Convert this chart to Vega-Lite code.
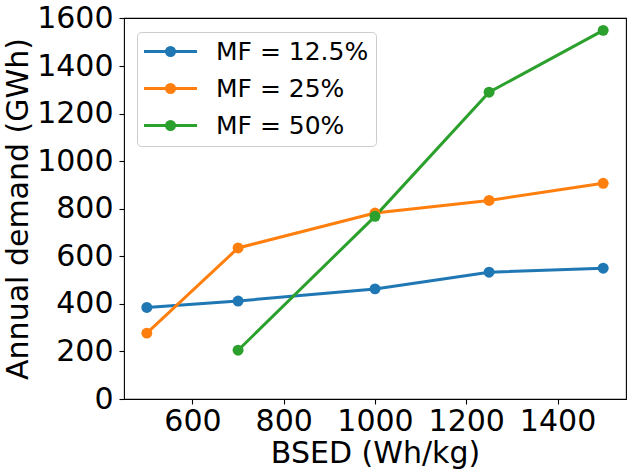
{
  "$schema": "https://vega.github.io/schema/vega-lite/v6.json",
  "autosize": "none",
  "padding": {"left": 124, "top": 18, "right": 7, "bottom": 76},
  "width": 502,
  "height": 381,
  "background": "white",
  "config": {
    "font": "DejaVu Sans",
    "view": {"stroke": "black", "strokeWidth": 1.1},
    "axis": {
      "grid": false,
      "domain": false,
      "format": "d",
      "labelFont": "DejaVu Sans",
      "labelFontSize": 30,
      "labelColor": "black",
      "titleFont": "DejaVu Sans",
      "titleFontSize": 30,
      "titleFontWeight": "normal",
      "titleColor": "black",
      "tickColor": "black",
      "tickSize": 5,
      "tickWidth": 1.1
    },
    "legend": {
      "orient": "none",
      "legendX": 13,
      "legendY": 14,
      "padding": 7,
      "rowPadding": 11,
      "strokeColor": "#cccccc",
      "fillColor": "white",
      "cornerRadius": 4,
      "labelFont": "DejaVu Sans",
      "labelFontSize": 25,
      "labelColor": "black",
      "labelOffset": 47,
      "symbolType": "M-1.136,0L3.682,0M0.909,0A0.364,0.364 0 1,0 1.637,0A0.364,0.364 0 1,0 0.909,0Z",
      "symbolSize": 484,
      "symbolStrokeWidth": 3,
      "symbolOpacity": 1
    }
  },
  "data": {
    "values": [
      {"series": "MF = 12.5%", "bsed": 500, "demand": 385},
      {"series": "MF = 12.5%", "bsed": 700, "demand": 412},
      {"series": "MF = 12.5%", "bsed": 1000, "demand": 463},
      {"series": "MF = 12.5%", "bsed": 1250, "demand": 533},
      {"series": "MF = 12.5%", "bsed": 1500, "demand": 550},
      {"series": "MF = 25%", "bsed": 500, "demand": 277},
      {"series": "MF = 25%", "bsed": 700, "demand": 635},
      {"series": "MF = 25%", "bsed": 1000, "demand": 782},
      {"series": "MF = 25%", "bsed": 1250, "demand": 835},
      {"series": "MF = 25%", "bsed": 1500, "demand": 907},
      {"series": "MF = 50%", "bsed": 700, "demand": 205},
      {"series": "MF = 50%", "bsed": 1000, "demand": 768},
      {"series": "MF = 50%", "bsed": 1250, "demand": 1290},
      {"series": "MF = 50%", "bsed": 1500, "demand": 1550}
    ]
  },
  "encoding": {
    "x": {
      "field": "bsed",
      "type": "quantitative",
      "title": "BSED (Wh/kg)",
      "scale": {"domain": [450, 1550], "nice": false, "zero": false},
      "axis": {"values": [600, 800, 1000, 1200, 1400], "labelPadding": 2, "titlePadding": 2}
    },
    "y": {
      "field": "demand",
      "type": "quantitative",
      "title": "Annual demand (GWh)",
      "scale": {"domain": [0, 1602], "nice": false},
      "axis": {"values": [0, 200, 400, 600, 800, 1000, 1200, 1400, 1600], "labelPadding": 6, "titlePadding": 3}
    }
  },
  "layer": [
    {
      "mark": {"type": "line", "strokeWidth": 3},
      "encoding": {
        "stroke": {
          "field": "series",
          "type": "nominal",
          "title": null,
          "scale": {"domain": ["MF = 12.5%", "MF = 25%", "MF = 50%"], "range": ["#1f77b4", "#ff7f0e", "#2ca02c"]}
        }
      }
    },
    {
      "mark": {"type": "point", "filled": true, "size": 120, "opacity": 1},
      "encoding": {
        "fill": {
          "field": "series",
          "type": "nominal",
          "title": null,
          "scale": {"domain": ["MF = 12.5%", "MF = 25%", "MF = 50%"], "range": ["#1f77b4", "#ff7f0e", "#2ca02c"]}
        }
      }
    }
  ]
}
